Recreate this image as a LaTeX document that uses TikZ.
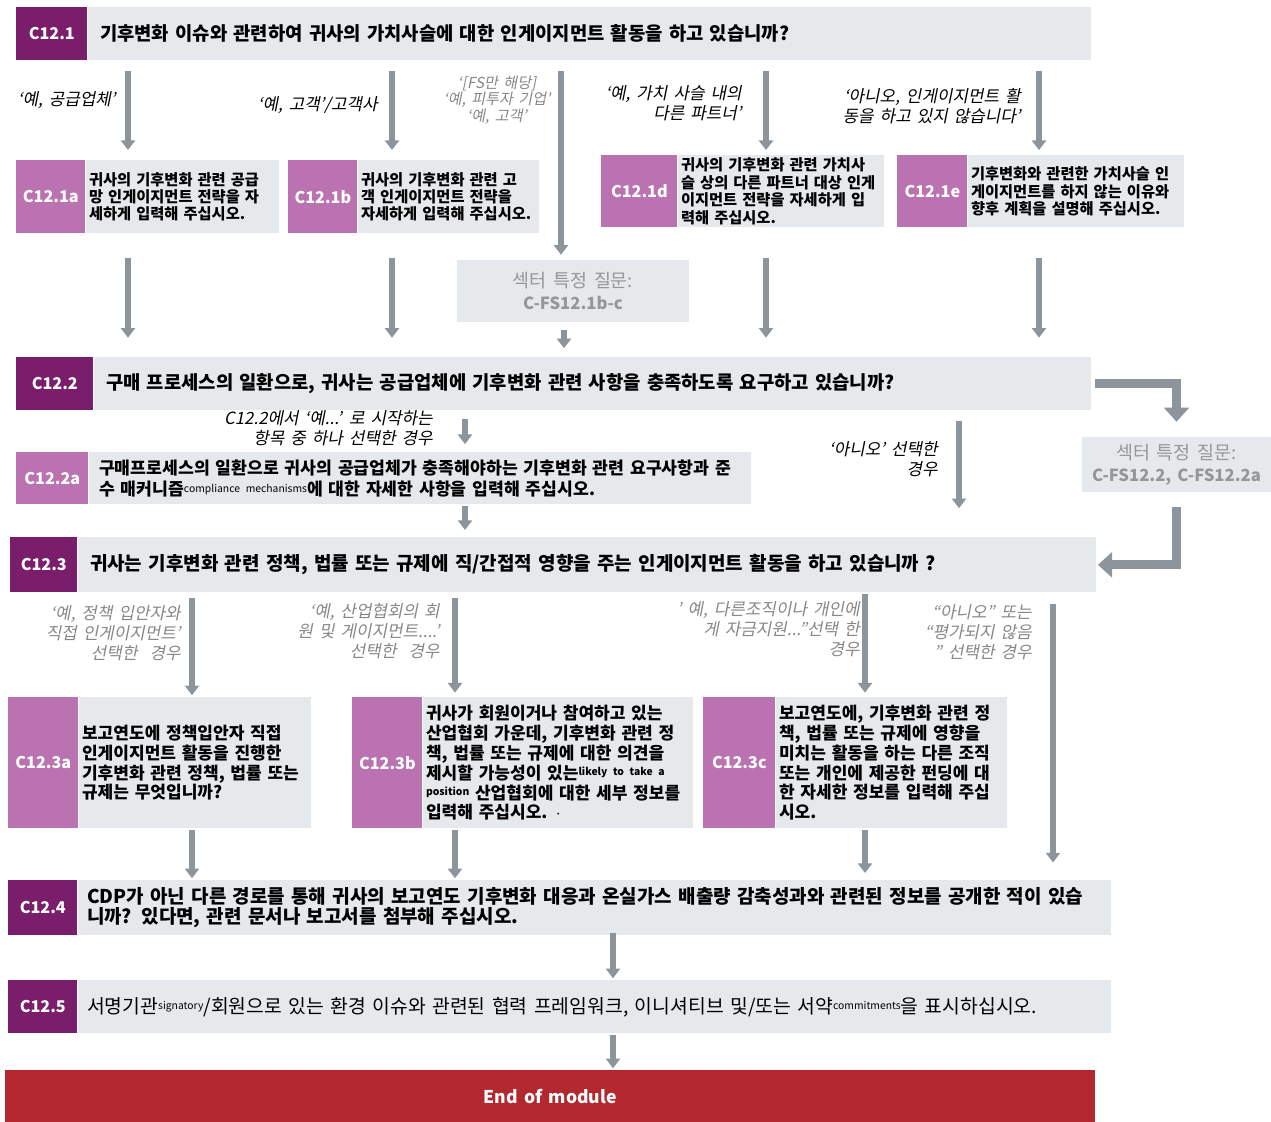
\documentclass[tikz,border=0pt]{standalone}
\usepackage{fontspec}
\setmainfont[WordSpace=1.6]{Noto Sans CJK KR}
\newfontfamily\notefont[FakeSlant=0.2, WordSpace=1.6]{Noto Sans CJK KR}
\usepackage{xcolor}
\usepackage{tikz}
\usetikzlibrary{arrows.meta, positioning, calc}
\definecolor{codedark}{RGB}{122, 30, 107}
\definecolor{codelight}{RGB}{187, 114, 176}
\definecolor{barfill}{RGB}{230, 233, 236}
\definecolor{flowgray}{RGB}{140, 148, 156}
\definecolor{sectorgray}{RGB}{150, 150, 150}
\definecolor{notegray}{RGB}{135, 135, 135}
\definecolor{endred}{RGB}{179, 40, 46}
\newcommand{\engsup}[1]{\raisebox{0.35ex}{\fontsize{5.9}{5.9}\selectfont\mdseries #1}}

\begin{document}
\begin{tikzpicture}[
    x=0.02cm, y=-0.02cm,
    qcode/.style={fill=codedark, text=white, inner sep=0pt, anchor=north west, font=\fontsize{9.2}{11}\selectfont\bfseries},
    subcode/.style={fill=codelight, text=white, inner sep=0pt, anchor=north west, font=\fontsize{9.2}{11}\selectfont\bfseries},
    qbar/.style={fill=barfill, inner xsep=2.4mm, inner ysep=0pt, align=left, font=\fontsize{10.7}{12}\selectfont\bfseries},
    subbox/.style={fill=barfill, inner xsep=0.6mm, inner ysep=0pt, align=left, font=\fontsize{8.7}{9.9}\selectfont\bfseries},
    bigbox/.style={fill=barfill, inner xsep=0.6mm, inner ysep=0pt, align=left, font=\fontsize{9.7}{11.3}\selectfont\bfseries},
    sector/.style={fill=barfill, text=sectorgray, align=center, inner sep=0pt, font=\fontsize{10.5}{12.5}\selectfont},
    note/.style={align=right, anchor=east, inner sep=0pt, font=\notefont\fontsize{9.6}{11.3}\selectfont},
    flow/.style={-{Triangle[width=8pt,length=5.5pt]}, line width=3.4pt, flowgray},
    bigflow/.style={-{Triangle[width=14pt,length=8pt]}, line width=5pt, flowgray}
]
    \useasboundingbox (0,0) rectangle (1271,1122);

    % C12.1 and its branches
    \node[qcode, minimum width=14.2mm, minimum height=10.6mm] (c121) at (16,7) {C12.1};
    \node[qbar, right=0pt of c121, text width=195.8mm, minimum height=10.6mm] (c121q) {기후변화 이슈와 관련하여 귀사의 가치사슬에 대한 인게이지먼트 활동을 하고 있습니까?};

    \node[subcode, minimum width=13.8mm, minimum height=14.6mm] (c121a) at (16,160) {C12.1a};
    \node[subbox, right=0pt of c121a, text width=37.4mm, minimum height=14.6mm] (c121at) {귀사의 기후변화 관련 공급\\망 인게이지먼트 전략을 자\\세하게 입력해 주십시오.};
    \node[subcode, minimum width=13.8mm, minimum height=14.6mm] (c121b) at (288,160) {C12.1b};
    \node[subbox, right=0pt of c121b, text width=35mm, minimum height=14.6mm] (c121bt) {귀사의 기후변화 관련 고\\객 인게이지먼트 전략을\\자세하게 입력해 주십시오.};
    \node[subcode, minimum width=15.2mm, minimum height=14.4mm] (c121d) at (601,155) {C12.1d};
    \node[subbox, right=0pt of c121d, text width=40mm, minimum height=14.4mm] (c121dt) {귀사의 기후변화 관련 가치사\\슬 상의 다른 파트너 대상 인게\\이지먼트 전략을 자세하게 입\\력해 주십시오.};
    \node[subcode, minimum width=14mm, minimum height=14.4mm] (c121e) at (897,155) {C12.1e};
    \node[subbox, right=0pt of c121e, text width=42mm, minimum height=14.4mm] (c121et) {기후변화와 관련한 가치사슬 인\\게이지먼트를 하지 않는 이유와\\향후 계획을 설명해 주십시오.};

    \node[sector, minimum width=46.4mm, minimum height=12.4mm] (fs121) at (573,291) {섹터 특정 질문:\\{\fontsize{9.5}{12.5}\selectfont\bfseries C-FS12.1b-c}};

    % C12.2
    \node[qcode, minimum width=15.4mm, minimum height=10.6mm] (c122) at (16,357) {C12.2};
    \node[qbar, right=0pt of c122, text width=194.6mm, minimum height=10.6mm] (c122q) {구매 프로세스의 일환으로, 귀사는 공급업체에 기후변화 관련 사항을 충족하도록 요구하고 있습니까?};
    \node[subcode, minimum width=14.4mm, minimum height=10.4mm] (c122a) at (16,452) {C12.2a};
    \node[qbar, right=0pt of c122a, inner xsep=2mm, text width=128.4mm, minimum height=10.4mm, font=\fontsize{9.8}{12}\selectfont\bfseries] (c122at) {구매프로세스의 일환으로 귀사의 공급업체가 충족해야하는 기후변화 관련 요구사항과 준\\수 매커니즘\engsup{compliance mechanisms}에 대한 자세한 사항을 입력해 주십시오.};
    \node[sector, minimum width=37.8mm, minimum height=11mm] (fs122) at (1176.5,464.5) {섹터 특정 질문:\\{\fontsize{9.5}{12.5}\selectfont\bfseries C-FS12.2, C-FS12.2a}};

    % C12.3 and its branches
    \node[qcode, minimum width=13.4mm, minimum height=11mm] (c123) at (10,537) {C12.3};
    \node[qbar, right=0pt of c123, text width=198.8mm, minimum height=11mm, font=\fontsize{10.8}{12}\selectfont\bfseries] (c123q) {귀사는 기후변화 관련 정책, 법률 또는 규제에 직/간접적 영향을 주는 인게이지먼트 활동을 하고 있습니까 ?};
    \node[subcode, minimum width=14mm, minimum height=26.2mm] (c123a) at (8,697) {C12.3a};
    \node[bigbox, right=0pt of c123a, text width=45.2mm, minimum height=26.2mm] (c123at) {보고연도에 정책입안자 직접\\인게이지먼트 활동을 진행한\\기후변화 관련 정책, 법률 또는\\규제는 무엇입니까?};
    \node[subcode, minimum width=14mm, minimum height=26.2mm] (c123b) at (352,697) {C12.3b};
    \node[bigbox, right=0pt of c123b, text width=52.8mm, minimum height=26.2mm] (c123bt) {귀사가 회원이거나 참여하고 있는\\산업협회 가운데, 기후변화 관련 정\\책, 법률 또는 규제에 대한 의견을\\제시할 가능성이 있는\engsup{\bfseries likely to take a}\\\engsup{\bfseries position} 산업협회에 대한 세부 정보를\\입력해 주십시오. $\cdot$};
    \node[subcode, minimum width=14.4mm, minimum height=26.2mm] (c123c) at (703,697) {C12.3c};
    \node[bigbox, right=0pt of c123c, text width=45mm, minimum height=26.2mm] (c123ct) {보고연도에, 기후변화 관련 정\\책, 법률 또는 규제에 영향을\\미치는 활동을 하는 다른 조직\\또는 개인에 제공한 펀딩에 대\\한 자세한 정보를 입력해 주십\\시오.};

    % C12.4, C12.5 and end
    \node[qcode, minimum width=13.8mm, minimum height=11mm] (c124) at (8,880) {C12.4};
    \node[qbar, right=0pt of c124, text width=203mm, inner xsep=1.8mm, minimum height=11mm, font=\fontsize{10.8}{11.3}\selectfont\bfseries] (c124q) {CDP가 아닌 다른 경로를 통해 귀사의 보고연도 기후변화 대응과 온실가스 배출량 감축성과와 관련된 정보를 공개한 적이 있습\\니까? 있다면, 관련 문서나 보고서를 첨부해 주십시오.};
    \node[qcode, minimum width=13.8mm, minimum height=10.6mm] (c125) at (8,980) {C12.5};
    \node[qbar, right=0pt of c125, text width=203mm, inner xsep=1.8mm, minimum height=10.6mm, font=\fontsize{11}{12}\selectfont] (c125q) {서명기관\engsup{signatory}/회원으로 있는 환경 이슈와 관련된 협력 프레임워크, 이니셔티브 및/또는 서약\engsup{commitments}을 표시하십시오.};
    \node[fill=endred, text=white, anchor=north west, inner sep=0pt, minimum width=218mm, minimum height=10.4mm, font=\fontsize{10}{12}\selectfont\bfseries] (endm) at (5,1070) {End of module};

    % Branch labels
    \node[note] (n121a) at (116,100) {‘예, 공급업체’};
    \node[note] (n121b) at (378,105) {‘예,\ 고객’/고객사};
    \node[note, anchor=center, align=center, text=notegray, font=\notefont\fontsize{8.6}{9.4}\selectfont] (n121fs) at (497,100) {‘[FS만 해당]\\‘예, 피투자 기업’\\‘예, 고객’};
    \node[note] (n121d) at (742,103) {‘예, 가치 사슬 내의\\다른 파트너’};
    \node[note] (n121e) at (1021,106) {‘아니오, 인게이지먼트 활\\동을 하고 있지 않습니다’};
    \node[note] (n122y) at (433,428) {C12.2에서 ‘예...’ 로 시작하는\\항목 중 하나 선택한 경우};
    \node[note] (n122n) at (938,459) {‘아니오’\ 선택한\\경우};
    \node[note, text=notegray] (n123a) at (181,633) {‘예, 정책 입안자와\\직접 인게이지먼트’\\선택한\ \ 경우};
    \node[note, text=notegray] (n123b) at (440,631) {‘예, 산업협회의 회\\원 및 게이지먼트....’\\선택한\ \ 경우};
    \node[note, text=notegray] (n123c) at (860,629) {’ 예, 다른조직이나 개인에\\게 자금지원...”선택 한\\경우};
    \node[note, text=notegray] (n123d) at (1032,632) {“아니오” 또는\\“평가되지 않음\\” 선택한 경우};

    % Arrow columns
    \coordinate (xa) at (128,0);
    \coordinate (xb) at (392,0);
    \coordinate (xf) at (561,0);
    \coordinate (xs) at (564,0);
    \coordinate (xd) at (766,0);
    \coordinate (xe) at (1039,0);
    \coordinate (xm) at (465,0);
    \coordinate (xn) at (959,0);
    \coordinate (xp) at (192,0);
    \coordinate (xq) at (455,0);
    \coordinate (xr) at (865,0);
    \coordinate (xo) at (1053,0);
    \coordinate (xt) at (613,0);

    % C12.1 arrows
    \draw[flow, shorten <=5.7pt, shorten >=5.7pt] (c121q.south -| xa) -- (c121at.north -| xa);
    \draw[flow, shorten <=5.7pt, shorten >=5.7pt] (c121q.south -| xb) -- (c121bt.north -| xb);
    \draw[flow, shorten <=5.7pt, shorten >=2.8pt] (c121q.south -| xf) -- (fs121.north -| xf);
    \draw[flow, shorten <=5.7pt, shorten >=2.8pt] (c121q.south -| xd) -- (c121dt.north -| xd);
    \draw[flow, shorten <=5.7pt, shorten >=2.8pt] (c121q.south -| xe) -- (c121et.north -| xe);
    \draw[flow, shorten <=14pt, shorten >=11pt] (c121at.south -| xa) -- (c122q.north -| xa);
    \draw[flow, shorten <=14pt, shorten >=11pt] (c121bt.south -| xb) -- (c122q.north -| xb);
    \draw[flow, shorten <=17.5pt, shorten >=11pt] (c121dt.south -| xd) -- (c122q.north -| xd);
    \draw[flow, shorten <=17.5pt, shorten >=11pt] (c121et.south -| xe) -- (c122q.north -| xe);
    \draw[flow, shorten <=4.5pt, shorten >=5pt] (fs121.south -| xs) -- (c122q.north -| xs);

    % C12.2 arrows
    \draw[flow, shorten <=4.5pt, shorten >=4.5pt] (c122q.south -| xm) -- (c122at.north -| xm);
    \draw[flow, shorten <=1pt, shorten >=4pt] (c122at.south -| xm) -- (c123q.north -| xm);
    \draw[flow, shorten <=5.7pt, shorten >=16.4pt] (c122q.south -| xn) -- (c123q.north -| xn);
    \draw[bigflow, shorten <=2pt, shorten >=8.5pt] (c122q.east) -| (fs122.north);
    \draw[bigflow, shorten <=8.5pt, shorten >=1pt] (fs122.south) |- (c123q.east);

    % C12.3 arrows
    \draw[flow, shorten <=2.8pt, shorten >=1pt] (c123q.south -| xp) -- (c123at.north -| xp);
    \draw[flow, shorten <=2.8pt, shorten >=2.5pt] (c123q.south -| xq) -- (c123bt.north -| xq);
    \draw[flow, shorten <=0.5pt, shorten >=2.5pt] (c123q.south -| xr) -- (c123ct.north -| xr);
    \draw[flow, shorten <=6.2pt, shorten >=10pt] (c123q.south -| xo) -- (c124q.north -| xo);
    \draw[flow, shorten <=1pt, shorten >=1pt] (c123at.south -| xp) -- (c124q.north -| xp);
    \draw[flow, shorten <=1pt, shorten >=1pt] (c123bt.south -| xq) -- (c124q.north -| xq);
    \draw[flow, shorten <=1pt, shorten >=4pt] (c123ct.south -| xr) -- (c124q.north -| xr);

    % C12.4 to end
    \draw[flow, shorten <=-1.5pt, shorten >=1pt] (c124q.south -| xt) -- (c125q.north -| xt);
    \draw[flow, shorten <=1pt, shorten >=1pt] (c125q.south -| xt) -- (endm.north -| xt);
\end{tikzpicture}
\end{document}
